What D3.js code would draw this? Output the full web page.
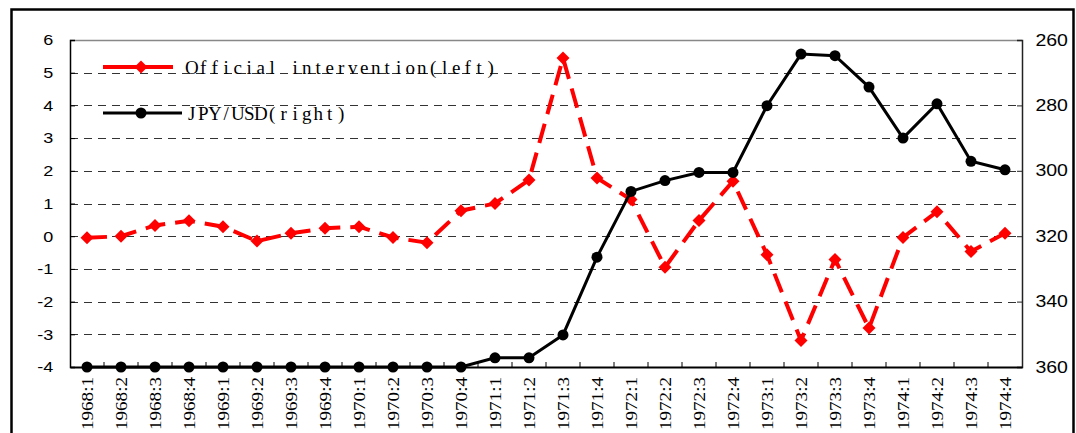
<!DOCTYPE html>
<html>
<head>
<meta charset="utf-8">
<script src="https://cdn.jsdelivr.net/npm/d3@7"></script>
<style>
  body { margin: 0; background: #fff; }
  svg { display: block; }
</style>
</head>
<body>
<div id="chart"></div>
<script>
// quarters on the x axis
const quarters = [
  "1968:1", "1968:2", "1968:3", "1968:4",
  "1969:1", "1969:2", "1969:3", "1969:4",
  "1970:1", "1970:2", "1970:3", "1970:4",
  "1971:1", "1971:2", "1971:3", "1971:4",
  "1972:1", "1972:2", "1972:3", "1972:4",
  "1973:1", "1973:2", "1973:3", "1973:4",
  "1974:1", "1974:2", "1974:3", "1974:4"
];

// Official intervention (left axis)
const intervention = [
  -0.05, 0.0, 0.33, 0.47,
  0.29, -0.15, 0.09, 0.24,
  0.29, -0.04, -0.2, 0.78,
  1.0, 1.72, 5.45, 1.78,
  1.12, -0.95, 0.48, 1.68,
  -0.57, -3.19, -0.71, -2.81,
  -0.04, 0.75, -0.47, 0.09
];

// JPY/USD (right axis, inverted)
const jpyusd = [
  360, 360, 360, 360,
  360, 360, 360, 360,
  360, 360, 360, 360,
  357.2, 357.2, 350.2, 326.4,
  306.3, 303.0, 300.5, 300.5,
  280.1, 264.3, 264.8, 274.4,
  290.0, 279.5, 297.1, 299.7
];

const leftTicks = [-4, -3, -2, -1, 0, 1, 2, 3, 4, 5, 6];
const rightTicks = [260, 280, 300, 320, 340, 360];

const W = 1076, H = 433;
const plot = { left: 70, right: 1022, top: 40, bottom: 367 };

const svg = d3.select("#chart")
  .append("svg")
  .attr("width", W)
  .attr("height", H);

// outer frame
svg.append("rect")
  .attr("x", 11.5)
  .attr("y", 9.5)
  .attr("width", 1062)
  .attr("height", 500)
  .attr("fill", "none")
  .attr("stroke", "#000")
  .attr("stroke-width", 2.5);

const x = d3.scaleBand()
  .domain(quarters)
  .range([plot.left, plot.right])
  .padding(0);

const yLeft = d3.scaleLinear()
  .domain([-4, 6])
  .range([plot.bottom, plot.top]);

const yRight = d3.scaleLinear()
  .domain([260, 360])
  .range([plot.top, plot.bottom]);

const cx = d => x(d) + x.bandwidth() / 2;

// dashed grid lines
svg.append("g")
  .selectAll("line")
  .data(leftTicks.filter(v => v > -4 && v < 6))
  .join("line")
  .attr("x1", plot.left)
  .attr("x2", plot.right)
  .attr("y1", d => Math.round(yLeft(d)) + 0.5)
  .attr("y2", d => Math.round(yLeft(d)) + 0.5)
  .attr("stroke", "#333")
  .attr("stroke-width", 1)
  .attr("stroke-dasharray", "8,6");

// top border of plot
svg.append("line")
  .attr("x1", plot.left)
  .attr("x2", plot.right)
  .attr("y1", plot.top + 0.5)
  .attr("y2", plot.top + 0.5)
  .attr("stroke", "#888")
  .attr("stroke-width", 1.5);

// left axis
const leftAxis = svg.append("g")
  .attr("transform", `translate(${plot.left},0)`)
  .call(d3.axisLeft(yLeft).tickValues(leftTicks).tickSize(-5).tickPadding(0).tickFormat(d => String(d)));
leftAxis.select(".domain").attr("stroke", "#000").attr("stroke-width", 1.5);
leftAxis.selectAll(".tick line").attr("stroke", "#000");
leftAxis.selectAll("text")
  .attr("x", -14)
  .attr("transform", "scale(1.2,1)")
  .style("font-family", "'Liberation Sans', Arial, sans-serif")
  .style("font-size", "15px")
  .attr("fill", "#000");

// right axis
const rightAxis = svg.append("g")
  .attr("transform", `translate(${plot.right},0)`)
  .call(d3.axisRight(yRight).tickValues(rightTicks).tickSize(-5).tickPadding(0));
rightAxis.select(".domain").attr("stroke", "#222").attr("stroke-width", 1.5);
rightAxis.selectAll(".tick line").attr("stroke", "#222");
rightAxis.selectAll("text")
  .attr("x", 11)
  .attr("transform", "scale(1.22,1)")
  .style("font-family", "'Liberation Sans', Arial, sans-serif")
  .style("font-size", "16px")
  .attr("fill", "#000");

// bottom axis
const bottomAxis = svg.append("g")
  .attr("transform", `translate(0,${plot.bottom})`)
  .call(d3.axisBottom(x).tickSize(0).tickPadding(0));
bottomAxis.select(".domain").attr("stroke", "#000").attr("stroke-width", 2);
bottomAxis.selectAll(".tick text")
  .attr("transform", "rotate(-90)")
  .attr("x", -10)
  .attr("y", 0)
  .attr("dy", "0.35em")
  .attr("text-anchor", "end")
  .attr("textLength", 53)
  .attr("lengthAdjust", "spacingAndGlyphs")
  .style("font-family", "'Liberation Serif', 'Times New Roman', serif")
  .style("font-size", "17px")
  .attr("fill", "#000");

// tick marks at category boundaries (inward)
svg.append("g")
  .selectAll("line")
  .data(quarters.slice(1))
  .join("line")
  .attr("x1", d => x(d))
  .attr("x2", d => x(d))
  .attr("y1", plot.bottom)
  .attr("y2", plot.bottom - 5)
  .attr("stroke", "#000");

// intervention line (red dashed, diamonds)
const lineLeft = d3.line()
  .x((d, i) => cx(quarters[i]))
  .y(d => yLeft(d));

svg.append("path")
  .datum(intervention)
  .attr("fill", "none")
  .attr("stroke", "#ff0000")
  .attr("stroke-width", 4)
  .attr("stroke-dasharray", "20,10")
  .attr("d", lineLeft);

const diamond = "M0,-6.5L6.5,0L0,6.5L-6.5,0Z";
svg.append("g")
  .selectAll("path")
  .data(intervention)
  .join("path")
  .attr("transform", (d, i) => `translate(${cx(quarters[i])},${yLeft(d)})`)
  .attr("d", diamond)
  .attr("fill", "#ff0000");

// JPY/USD line (black, circles)
const lineRight = d3.line()
  .x((d, i) => cx(quarters[i]))
  .y(d => yRight(d));

svg.append("path")
  .datum(jpyusd)
  .attr("fill", "none")
  .attr("stroke", "#000")
  .attr("stroke-width", 3)
  .attr("d", lineRight);

svg.append("g")
  .selectAll("circle")
  .data(jpyusd)
  .join("circle")
  .attr("cx", (d, i) => cx(quarters[i]))
  .attr("cy", d => yRight(d))
  .attr("r", 5.5)
  .attr("fill", "#000");

// legend - monospaced look: one glyph per fixed-width cell
const legendFont = "'Liberation Serif', 'Times New Roman', serif";
const pitch = 11.5;

function monoText(g, str, x0, y0) {
  const t = g.append("text")
    .attr("y", y0)
    .attr("text-anchor", "middle")
    .style("font-family", legendFont)
    .style("font-size", "19px")
    .attr("fill", "#000");
  t.selectAll("tspan")
    .data(str.split(""))
    .join("tspan")
    .attr("x", (c, i) => x0 + i * pitch + pitch / 2)
    .text(c => c);
}

const leg1 = svg.append("g").attr("transform", "translate(0,67)");
leg1.append("line")
  .attr("x1", 103).attr("x2", 173)
  .attr("stroke", "#ff0000").attr("stroke-width", 4);
leg1.append("path")
  .attr("transform", "translate(141,0)")
  .attr("d", diamond)
  .attr("fill", "#ff0000");
monoText(leg1, "Official intervention(left)", 186, 7);

const leg2 = svg.append("g").attr("transform", "translate(0,113)");
leg2.append("line")
  .attr("x1", 103).attr("x2", 182)
  .attr("stroke", "#000").attr("stroke-width", 3);
leg2.append("circle")
  .attr("cx", 141)
  .attr("r", 5.5)
  .attr("fill", "#000");
monoText(leg2, "JPY/USD(right)", 186, 7);
</script>
</body>
</html>
